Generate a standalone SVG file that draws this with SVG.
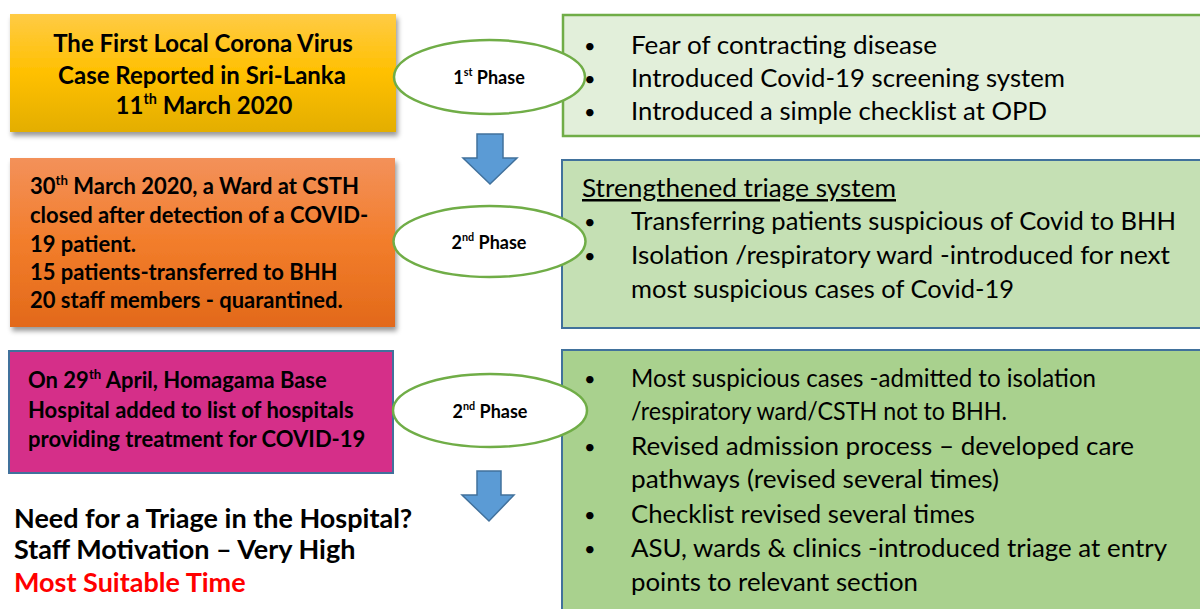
<svg xmlns="http://www.w3.org/2000/svg" width="1200" height="609" viewBox="0 0 1200 609">
<defs>
<linearGradient id="gy" x1="0" y1="0" x2="0" y2="1">
<stop offset="0" stop-color="#ffcb45"/><stop offset="0.5" stop-color="#ffc000"/><stop offset="1" stop-color="#e3ae00"/>
</linearGradient>
<linearGradient id="go" x1="0" y1="0" x2="0" y2="1">
<stop offset="0" stop-color="#f3915a"/><stop offset="0.5" stop-color="#f27d2b"/><stop offset="1" stop-color="#e2691a"/>
</linearGradient>
<filter id="sh" x="-5%" y="-10%" width="115%" height="130%">
<feDropShadow dx="2" dy="4" stdDeviation="2.5" flood-color="#000" flood-opacity="0.4"/>
</filter>
<style>
text{font-family:Lato,"Liberation Sans",sans-serif;fill:#000}
.lb1{font-weight:bold;font-size:24px}
.lb{font-weight:bold;font-size:22px}
.rt{font-size:25px}
.bu{font-size:20px}
.bt{font-weight:bold;font-size:27px}
.ph{font-weight:bold;font-size:18px}
.sup{font-size:0.6em}
.ell{fill:#fff;stroke:#70ad47;stroke-width:2.5}
.arr{fill:#5b9bd5;stroke:#41719c;stroke-width:1.5}
.bl{stroke:#41719c;stroke-width:2}
</style>
</defs>

<g id="right1">
<rect x="563" y="15" width="645" height="121" fill="#e2efda" stroke="#70ad47" stroke-width="2.5"/>
<g class="rt">
<text x="584" y="53" class="bu">•</text><text x="631" y="54" textLength="306" lengthAdjust="spacingAndGlyphs">Fear of contracting disease</text>
<text x="584" y="86" class="bu">•</text><text x="631" y="87" textLength="434" lengthAdjust="spacingAndGlyphs">Introduced Covid-19 screening system</text>
<text x="584" y="119" class="bu">•</text><text x="631" y="120" textLength="416" lengthAdjust="spacingAndGlyphs">Introduced a simple checklist at OPD</text>
</g>
</g>

<g id="right2">
<rect x="562" y="160" width="645" height="168" fill="#c5e0b4" class="bl"/>
<g class="rt">
<text x="582" y="197" text-decoration="underline" textLength="314" lengthAdjust="spacingAndGlyphs">Strengthened triage system</text>
<text x="584" y="229" class="bu">•</text><text x="631" y="230" textLength="545" lengthAdjust="spacingAndGlyphs">Transferring patients suspicious of Covid to BHH</text>
<text x="584" y="263" class="bu">•</text><text x="631" y="264" textLength="539" lengthAdjust="spacingAndGlyphs">Isolation /respiratory ward -introduced for next</text>
<text x="631" y="298" textLength="383" lengthAdjust="spacingAndGlyphs">most suspicious cases of Covid-19</text>
</g>
</g>

<g id="right3">
<rect x="562" y="350" width="645" height="270" fill="#a9d18e" class="bl"/>
<g class="rt">
<text x="584" y="386" class="bu">•</text><text x="631" y="387" textLength="465" lengthAdjust="spacingAndGlyphs">Most suspicious cases -admitted to isolation</text>
<text x="631" y="420" textLength="376" lengthAdjust="spacingAndGlyphs">/respiratory ward/CSTH not to BHH.</text>
<text x="584" y="454" class="bu">•</text><text x="631" y="455" textLength="503" lengthAdjust="spacingAndGlyphs">Revised admission process – developed care</text>
<text x="631" y="488" textLength="368" lengthAdjust="spacingAndGlyphs">pathways (revised several times)</text>
<text x="584" y="522" class="bu">•</text><text x="631" y="523" textLength="344" lengthAdjust="spacingAndGlyphs">Checklist revised several times</text>
<text x="584" y="556" class="bu">•</text><text x="631" y="557" textLength="536" lengthAdjust="spacingAndGlyphs">ASU, wards &amp; clinics -introduced triage at entry</text>
<text x="631" y="591" textLength="287" lengthAdjust="spacingAndGlyphs">points to relevant section</text>
</g>
</g>

<g id="box1">
<rect x="10" y="14" width="386" height="118" fill="url(#gy)" filter="url(#sh)"/>
<g class="lb1" text-anchor="middle">
<text x="203" y="52">The First Local Corona Virus</text>
<text x="202" y="84">Case Reported in Sri-Lanka</text>
<text x="204" y="114">11<tspan class="sup" dy="-10">th</tspan><tspan dy="10"> March 2020</tspan></text>
</g>
</g>

<g id="box2">
<rect x="10" y="158" width="385" height="169" fill="url(#go)" filter="url(#sh)"/>
<g class="lb">
<text x="30" y="194">30<tspan class="sup" dy="-9">th</tspan><tspan dy="9"> March 2020, a Ward at CSTH</tspan></text>
<text x="30" y="223">closed after detection of a COVID-</text>
<text x="30" y="252">19 patient.</text>
<text x="30" y="280">15 patients-transferred to BHH</text>
<text x="30" y="308">20 staff members - quarantined.</text>
</g>
</g>

<g id="box3">
<rect x="9" y="351" width="384" height="122" fill="#d52f89" class="bl"/>
<g class="lb">
<text x="28" y="388">On 29<tspan class="sup" dy="-9">th</tspan><tspan dy="9"> April, Homagama Base</tspan></text>
<text x="28" y="418">Hospital added to list of hospitals</text>
<text x="28" y="447">providing treatment for COVID-19</text>
</g>
</g>

<g id="ph1">
<ellipse cx="489.5" cy="77" rx="95.5" ry="37" class="ell"/>
<text x="489" y="84" class="ph" text-anchor="middle">1<tspan class="sup" dy="-8">st</tspan><tspan dy="8"> Phase</tspan></text>
</g>
<g id="ph2">
<ellipse cx="489.5" cy="241.5" rx="96" ry="35.5" class="ell"/>
<text x="489" y="249" class="ph" text-anchor="middle">2<tspan class="sup" dy="-8">nd</tspan><tspan dy="8"> Phase</tspan></text>
</g>
<g id="ph3">
<ellipse cx="490" cy="410.5" rx="97" ry="36.5" class="ell"/>
<text x="490" y="418" class="ph" text-anchor="middle">2<tspan class="sup" dy="-8">nd</tspan><tspan dy="8"> Phase</tspan></text>
</g>

<g id="connectors">
<polygon class="arr" points="477,134 503,134 503,158 517,158 490,184 463,158 477,158"/>
<polygon class="arr" points="477,471 501,471 501,495 514,495 489,521 462,495 477,495"/>
</g>

<g id="notes" class="bt">
<text x="14" y="528">Need for a Triage in the Hospital?</text>
<text x="14" y="559">Staff Motivation – Very High</text>
<text x="14" y="592" style="fill:#ff0000">Most Suitable Time</text>
</g>
</svg>
